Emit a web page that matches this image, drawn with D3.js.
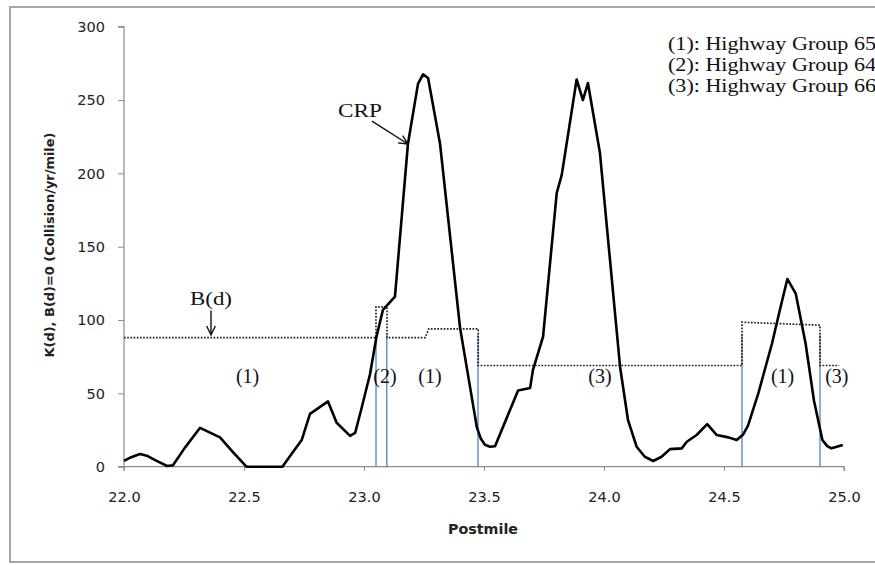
<!DOCTYPE html>
<html>
<head>
<meta charset="utf-8">
<script src="https://cdn.jsdelivr.net/npm/d3@7"></script>
<style>
	html, body { margin: 0; padding: 0; background: #fff; }
	svg { display: block; }
	.serif { font-family: "Liberation Serif", "Times New Roman", serif; fill: #111; }
</style>
</head>
<body>
<div id="chart"></div>
<script>

// CRP curve K(d)
var crpMile = [22.0, 22.03, 22.067, 22.095, 22.136, 22.18, 22.204, 22.254, 22.317, 22.4, 22.454, 22.51,
	22.66, 22.704, 22.74, 22.775, 22.85, 22.886, 22.942, 22.963, 22.99, 23.025, 23.052, 23.079, 23.129,
	23.183, 23.225, 23.246, 23.267, 23.317, 23.4, 23.47, 23.487, 23.504, 23.525, 23.546, 23.642, 23.692,
	23.704, 23.746, 23.803, 23.824, 23.886, 23.912, 23.933, 23.983, 24.067, 24.1, 24.136, 24.17, 24.205,
	24.24, 24.275, 24.324, 24.345, 24.386, 24.43, 24.47, 24.518, 24.553, 24.58, 24.6, 24.643, 24.7,
	24.733, 24.764, 24.799, 24.84, 24.875, 24.91, 24.93, 24.948, 24.995];
var crpRate = [4, 6.5, 8.7, 7.5, 4, 0.5, 1, 13, 26.5, 20, 10, 0,
	0, 10, 18, 36, 44.5, 30, 21, 23, 40, 63, 88.6, 107, 116,
	220, 261, 267.5, 265, 220, 95, 27, 19, 15, 13.6, 14, 52, 53.6,
	66, 88.6, 186.6, 199, 264, 250, 261.6, 214, 68, 31.8, 13.6, 6.8, 3.9,
	6.8, 12, 12.5, 17, 21.6, 29, 21.6, 20, 18.2, 22, 28, 50, 84,
	107, 128, 118, 84, 45, 18.2, 14, 12.5, 14.8];

// B(d) step line
var bdMile = [22.0, 23.05, 23.05, 23.096, 23.096, 23.255, 23.27, 23.476, 23.476, 24.575, 24.575, 24.9, 24.9, 24.98];
var bdRate = [88, 88, 109, 109, 88, 88, 94, 94, 69, 69, 98.5, 96.5, 69, 69];

// highway group boundaries
var boundaryMile = [23.05, 23.095, 23.475, 24.575, 24.9];
var boundaryTop = 90;

// group labels under the B(d) line
var groupText = ["(1)", "(2)", "(1)", "(3)", "(1)", "(3)"];
var groupMile = [22.515, 23.0875, 23.275, 23.983, 24.744, 24.97];
var groupRate = 57;

var legendLines = ["(1): Highway Group 65", "(2): Highway Group 64", "(3): Highway Group 66"];

var xTicks = [22.0, 22.5, 23.0, 23.5, 24.0, 24.5, 25.0];
var yTicks = [0, 50, 100, 150, 200, 250, 300];


var width = 875, height = 565;

var x = d3.scaleLinear().domain([22, 25]).range([124, 844]);
var y = d3.scaleLinear().domain([0, 300]).range([466.7, 26.7]);

var svg = d3.select("#chart")
	.append("svg")
	.attr("width", width)
	.attr("height", height);

// outer frame
svg.append("rect")
	.attr("x", 10).attr("y", 7)
	.attr("width", 880).attr("height", 555)
	.attr("fill", "none")
	.attr("stroke", "#a6a6a6")
	.attr("stroke-width", 2);

// axes
var yAxis = svg.append("g")
	.attr("transform", "translate(" + x(22) + ",0)")
	.call(d3.axisLeft(y).tickValues(yTicks).tickSize(6).tickPadding(13).tickFormat(d3.format("d")));

var xAxis = svg.append("g")
	.attr("transform", "translate(0," + y(0) + ")")
	.call(d3.axisBottom(x).tickValues(xTicks).tickSize(4).tickPadding(21).tickFormat(d3.format(".1f")));

[yAxis, xAxis].forEach(function(a) {
	a.attr("font-family", null).attr("font-size", null);
	a.select(".domain").attr("stroke", "#8c8c8c").attr("stroke-width", 1.2);
	a.selectAll(".tick line").attr("stroke", "#8c8c8c");
	a.selectAll(".tick text")
		.style("font-family", "'DejaVu Sans', Verdana, sans-serif")
		.style("font-size", "14.5px")
		.style("fill", "#222");
});
yAxis.select(".domain").attr("d", "M-6," + y(300) + "H0V" + y(0) + "H-6");
xAxis.select(".domain").attr("d", "M" + x(22) + ",4V0H" + x(25) + "V4");

// axis titles
svg.append("text")
	.attr("transform", "translate(49,245) rotate(-90)")
	.attr("dy", ".35em")
	.attr("text-anchor", "middle")
	.attr("textLength", 225)
	.attr("lengthAdjust", "spacingAndGlyphs")
	.style("font-family", "'DejaVu Sans', Verdana, sans-serif")
	.style("font-size", "13px")
	.style("font-weight", "bold")
	.style("fill", "#222")
	.text("K(d), B(d)=0 (Collision/yr/mile)");

svg.append("text")
	.attr("x", 483).attr("y", 534)
	.attr("text-anchor", "middle")
	.attr("textLength", 70)
	.attr("lengthAdjust", "spacingAndGlyphs")
	.style("font-family", "'DejaVu Sans', Verdana, sans-serif")
	.style("font-size", "14px")
	.style("font-weight", "bold")
	.style("fill", "#222")
	.text("Postmile");

// group boundaries
svg.append("g")
	.selectAll("line")
	.data(boundaryMile)
	.enter().append("line")
		.attr("x1", function(d) { return x(d); })
		.attr("x2", function(d) { return x(d); })
		.attr("y1", y(0))
		.attr("y2", y(boundaryTop))
		.attr("stroke", "#4f81bd")
		.attr("stroke-width", 1.3);

// B(d) dotted steps
var bdLine = d3.line()
	.x(function(d, i) { return x(bdMile[i]); })
	.y(function(d, i) { return y(bdRate[i]); });

svg.append("path")
	.attr("d", bdLine(bdMile))
	.attr("fill", "none")
	.attr("stroke", "#222")
	.attr("stroke-width", 1.7)
	.attr("stroke-dasharray", "1.7,1.5");

// CRP curve
var crpLine = d3.line()
	.x(function(d, i) { return x(crpMile[i]); })
	.y(function(d, i) { return y(crpRate[i]); });

svg.append("path")
	.attr("d", crpLine(crpMile))
	.attr("fill", "none")
	.attr("stroke", "#000")
	.attr("stroke-width", 2.6)
	.attr("stroke-linejoin", "round");

// group labels
svg.append("g")
	.selectAll("text")
	.data(groupText)
	.enter().append("text")
		.attr("class", "serif")
		.attr("x", function(d, i) { return x(groupMile[i]); })
		.attr("y", y(groupRate))
		.attr("text-anchor", "middle")
		.style("font-size", "20px")
		.text(function(d) { return d; });

// annotations with arrows
function arrow(x1, y1, x2, y2) {
	var a = Math.atan2(y2 - y1, x2 - x1), h = 10, s = 0.45;
	svg.append("path")
		.attr("d", "M" + x1 + "," + y1 + "L" + x2 + "," + y2 +
			"M" + (x2 - h * Math.cos(a - s)) + "," + (y2 - h * Math.sin(a - s)) + "L" + x2 + "," + y2 +
			"L" + (x2 - h * Math.cos(a + s)) + "," + (y2 - h * Math.sin(a + s)))
		.attr("fill", "none")
		.attr("stroke", "#111")
		.attr("stroke-width", 1.4);
}

svg.append("text")
	.attr("class", "serif")
	.attr("x", x(22.983)).attr("y", y(238.4))
	.attr("text-anchor", "middle")
	.attr("textLength", 44)
	.attr("lengthAdjust", "spacingAndGlyphs")
	.style("font-size", "19px")
	.text("CRP");
arrow(x(23.033), y(235.6), x(23.183), y(220));

svg.append("text")
	.attr("class", "serif")
	.attr("x", x(22.3625)).attr("y", y(110.2))
	.attr("text-anchor", "middle")
	.attr("textLength", 42)
	.attr("lengthAdjust", "spacingAndGlyphs")
	.style("font-size", "18px")
	.text("B(d)");
arrow(x(22.3625), y(106.5), x(22.3625), y(89.8));

// legend text, top right
svg.append("g")
	.selectAll("text")
	.data(legendLines)
	.enter().append("text")
		.attr("class", "serif")
		.attr("x", 668)
		.attr("y", function(d, i) { return 50 + i * 21; })
		.attr("textLength", 208)
		.attr("lengthAdjust", "spacingAndGlyphs")
		.style("font-size", "19px")
		.text(function(d) { return d; });

</script>
</body>
</html>
